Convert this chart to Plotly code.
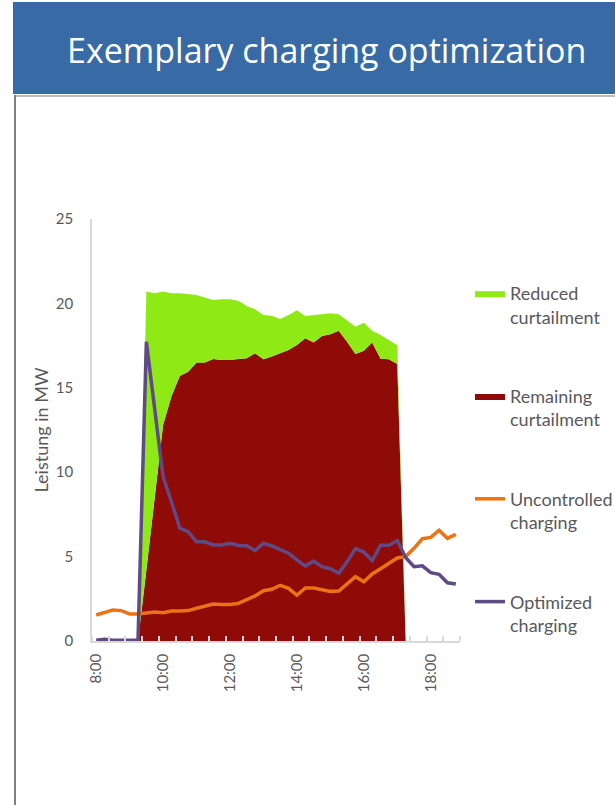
import plotly.graph_objects as go

# Quarter-hour time slots from 8:00 to 18:45
times = [f"{h}:{m:02d}" for h in range(8, 19) for m in (0, 15, 30, 45)]

# Curtailment that remains even with optimized charging (MW)
remaining_curtailment = [
    0, 0, 0, 0, 0, 0, 4.2, 8.5, 12.8, 14.5, 15.7, 15.95, 16.5, 16.5, 16.7,
    16.65, 16.65, 16.7, 16.75, 17.04, 16.69, 16.85, 17.04, 17.24, 17.54,
    17.93, 17.68, 18.07, 18.17, 18.38, 17.73, 17.0, 17.2, 17.68, 16.72,
    16.69, 16.41, 0, 0, 0, 0, 0, 0, 0,
]

# Curtailment avoided thanks to optimized charging (MW), stacked on top
reduced_curtailment = [
    0, 0, 0, 0, 0, 0, 16.5, 12.1, 7.9, 6.1, 4.9, 4.6, 4.0, 3.85, 3.5,
    3.6, 3.59, 3.46, 3.1, 2.61, 2.62, 2.42, 2.04, 2.07, 2.06,
    1.32, 1.62, 1.26, 1.24, 0.97, 1.27, 1.62, 1.66, 0.70, 1.41,
    1.14, 1.11, 0, 0, 0, 0, 0, 0, 0,
]

# Charging load of the vehicle fleet (MW)
uncontrolled_charging = [
    1.54, 1.70, 1.84, 1.80, 1.60, 1.60, 1.64, 1.72, 1.68, 1.78, 1.78,
    1.80, 1.94, 2.04, 2.19, 2.16, 2.16, 2.23, 2.43, 2.67, 2.98, 3.06,
    3.30, 3.12, 2.71, 3.14, 3.14, 3.02, 2.94, 2.96, 3.38, 3.81, 3.51,
    3.97, 4.28, 4.62, 4.92, 5.0, 5.49, 6.06, 6.14, 6.56, 6.08, 6.32,
]
optimized_charging = [
    0.05, 0.1, 0.05, 0.05, 0.05, 0.05, 17.73, 13.6, 9.73, 8.25, 6.68,
    6.48, 5.88, 5.88, 5.69, 5.69, 5.79, 5.66, 5.65, 5.35, 5.79, 5.63,
    5.39, 5.2, 4.80, 4.44, 4.74, 4.40, 4.28, 4.01, 4.70, 5.47, 5.27,
    4.76, 5.67, 5.67, 5.95, 4.95, 4.4, 4.45, 4.05, 3.95, 3.45, 3.38,
]

title_text = "Exemplary charging optimization"
y_title = "Leistung in MW"

# Page and plot-area geometry (pixels)
W, H = 615, 805
L, R, T, B = 92, 155, 219, 164
PW, PH = W - L - R, H - T - B


def fx(p):
    """Page pixel x -> paper coordinate."""
    return (p - L) / PW


def fy(p):
    """Page pixel y (from top) -> paper coordinate."""
    return (H - B - p) / PH


GREEN = "#8fe914"
DARKRED = "#8e0b07"
ORANGE = "#ec7214"
PURPLE = "#5f4a86"
GREY_TXT = "#595959"
AXIS = "#d9d9d9"
FONT = "Lato"

x = list(range(len(times)))
label_idx = [i for i, t in enumerate(times)
             if t.endswith(":00") and int(t.split(":")[0]) % 2 == 0]

fig = go.Figure()
fig.add_trace(go.Scatter(
    x=x, y=remaining_curtailment, name="Remaining<br>curtailment",
    stackgroup="curt", mode="lines", line=dict(width=0, color=DARKRED),
    fillcolor=DARKRED, legendrank=2, legendgroup="b", hoverinfo="skip",
))
fig.add_trace(go.Scatter(
    x=x, y=reduced_curtailment, name="Reduced<br>curtailment",
    stackgroup="curt", mode="lines", line=dict(width=0, color=GREEN),
    fillcolor=GREEN, legendrank=1, legendgroup="a", hoverinfo="skip",
))
fig.add_trace(go.Scatter(
    x=x, y=uncontrolled_charging, name="Uncontrolled<br>charging",
    mode="lines", line=dict(width=3.5, color=ORANGE),
    legendrank=3, legendgroup="c",
))
fig.add_trace(go.Scatter(
    x=x, y=optimized_charging, name="Optimized<br>charging",
    mode="lines", line=dict(width=3.5, color=PURPLE),
    legendrank=4, legendgroup="d",
))

fig.update_layout(
    width=W, height=H,
    margin=dict(l=L, r=R, t=T, b=B, autoexpand=False),
    paper_bgcolor="white", plot_bgcolor="white",
    font=dict(family=FONT, color=GREY_TXT, size=15),
    showlegend=True,
    legend=dict(
        x=fx(470), y=fy(275), xanchor="left", yanchor="top",
        traceorder="grouped", tracegroupgap=53, valign="top",
        font=dict(family=FONT, size=18, color=GREY_TXT),
        bgcolor="rgba(0,0,0,0)", itemwidth=30,
    ),
    xaxis=dict(
        range=[-0.5, len(times) - 0.5], tickmode="array",
        tickvals=label_idx, ticktext=[times[i] for i in label_idx],
        tickangle=-90, ticks="", showgrid=False, zeroline=False,
        showline=True, linecolor=AXIS, linewidth=1.5,
        tickfont=dict(size=15, color=GREY_TXT), ticklabelstandoff=5,
        minor=dict(tickmode="linear", tick0=-0.5, dtick=2, ticks="inside",
                   ticklen=5, tickcolor=AXIS, tickwidth=1.5, showgrid=False),
        fixedrange=True,
    ),
    yaxis=dict(
        range=[0, 25], dtick=5, ticks="", showgrid=False, zeroline=False,
        showline=True, linecolor=AXIS, linewidth=1.5,
        tickfont=dict(size=15, color=GREY_TXT), ticklabelstandoff=14,
        title=dict(text=y_title, font=dict(size=18, color=GREY_TXT),
                   standoff=3),
        fixedrange=True,
    ),
    shapes=[
        # blue header banner
        dict(type="rect", xref="paper", yref="paper",
             x0=fx(13), x1=fx(W + 2), y0=fy(2), y1=fy(94),
             fillcolor="#386aa6", line=dict(width=0), layer="below"),
        # frame lines of the content panel
        dict(type="line", xref="paper", yref="paper",
             x0=fx(14), x1=fx(W + 2), y0=fy(96), y1=fy(96),
             line=dict(color="#a6a6a6", width=1.5)),
        dict(type="line", xref="paper", yref="paper",
             x0=fx(15), x1=fx(15), y0=fy(95), y1=fy(H + 2),
             line=dict(color="#7f7f7f", width=2)),
    ],
    annotations=[
        dict(text=title_text, xref="paper", yref="paper",
             x=fx(326), y=fy(50), xanchor="center", yanchor="middle",
             showarrow=False,
             font=dict(family="Open Sans", size=34, color="white")),
    ],
)

fig.write_html("out.html", config={"displayModeBar": False})
